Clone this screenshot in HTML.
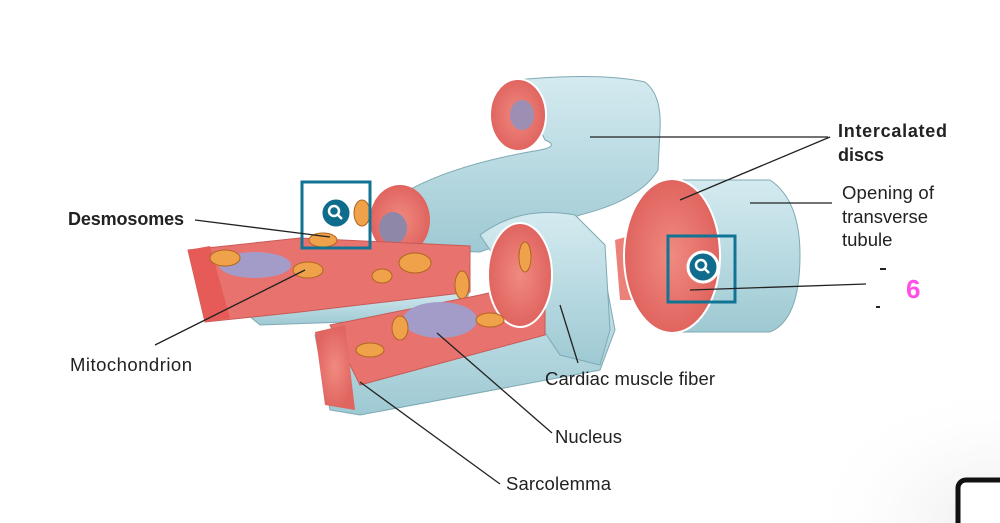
<!DOCTYPE html>
<html><head><style>
body{margin:0;width:1000px;height:523px;background:#fff;overflow:hidden;font-family:"Liberation Sans",sans-serif}
svg{position:absolute;left:0;top:0}
.t{font-family:"Liberation Sans",sans-serif;font-size:18.5px;fill:#222}
.b{font-weight:bold;font-size:18px}
</style></head><body>
<svg width="1000" height="523" viewBox="0 0 1000 523">
<defs>
<linearGradient id="bl" x1="0" y1="0" x2="0" y2="1"><stop offset="0" stop-color="#d4ebf0"/><stop offset="1" stop-color="#9ec9d3"/></linearGradient>
<radialGradient id="pk"><stop offset="0" stop-color="#f08a80"/><stop offset="1" stop-color="#e0645f"/></radialGradient>
<radialGradient id="sh" cx="1" cy="1" r="1"><stop offset="0" stop-color="#ececec"/><stop offset="1" stop-color="#fff" stop-opacity="0"/></radialGradient>
</defs>
<rect x="800" y="380" width="200" height="143" fill="url(#sh)"/>
<path d="M515,80 Q600,72 645,82 Q662,95 660,130 L658,170 Q640,200 580,215 L480,252 L410,250 Q385,220 400,195 Q450,165 540,150 Q560,146 545,140 Z" fill="url(#bl)" stroke="#7fa9b4"/>
<ellipse cx="518" cy="115" rx="28" ry="36" fill="url(#pk)" stroke="#fff" stroke-width="2"/>
<ellipse cx="522" cy="115" rx="12" ry="15" fill="#9d8fb4"/>
<ellipse cx="400" cy="220" rx="30" ry="35" fill="url(#pk)"/>
<ellipse cx="393" cy="228" rx="14" ry="16" fill="#8f87a8"/>
<path d="M230,300 L470,290 L460,318 L260,325 Z" fill="url(#bl)" stroke="#7fa9b4"/>
<path d="M188,250 L300,238 L470,246 L470,292 L300,312 L205,322 Z" fill="#e8736e" stroke="#c85a57"/>
<path d="M188,250 L210,246 L230,318 L205,322 Z" fill="#e65b57"/>
<ellipse cx="255" cy="265" rx="36" ry="13" fill="#a49cc8"/>
<g fill="#f0a24a" stroke="#b0651e">
<ellipse cx="225" cy="258" rx="15" ry="8"/><ellipse cx="308" cy="270" rx="15" ry="8"/><ellipse cx="323" cy="240" rx="14" ry="7"/>
<ellipse cx="415" cy="263" rx="16" ry="10"/><ellipse cx="382" cy="276" rx="10" ry="7"/><ellipse cx="462" cy="285" rx="7" ry="14"/><ellipse cx="362" cy="213" rx="8" ry="13"/>
</g>
<path d="M315,335 L560,280 L600,250 L615,330 L600,370 L360,415 L330,410 Z" fill="url(#bl)" stroke="#7fa9b4"/>
<path d="M480,235 Q520,205 575,215 L605,245 L610,330 L600,365 L560,355 Z" fill="url(#bl)" stroke="#7fa9b4"/>
<path d="M330,325 L480,295 L545,280 L545,335 L360,385 Z" fill="#e8736e" stroke="#c85a57"/>
<ellipse cx="520" cy="275" rx="32" ry="52" fill="url(#pk)" stroke="#fff" stroke-width="2"/>
<path d="M315,332 L345,325 L355,410 L325,405 Z" fill="url(#pk)"/>
<ellipse cx="440" cy="320" rx="37" ry="18" fill="#a49cc8"/>
<g fill="#f0a24a" stroke="#b0651e">
<ellipse cx="490" cy="320" rx="14" ry="7"/><ellipse cx="400" cy="328" rx="8" ry="12"/><ellipse cx="370" cy="350" rx="14" ry="7"/><ellipse cx="525" cy="257" rx="6" ry="15"/>
</g>
<path d="M615,240 L650,230 L660,300 L620,300 Z" fill="#ec8179"/>
<path d="M670,180 L770,180 Q800,200 800,255 Q800,320 770,332 L670,332 Z" fill="url(#bl)" stroke="#7fa9b4"/>
<ellipse cx="672" cy="256" rx="48" ry="77" fill="url(#pk)" stroke="#fff" stroke-width="2"/>
<g fill="none" stroke="#117495" stroke-width="3">
<rect x="302" y="182" width="68" height="66"/><rect x="668" y="236" width="67" height="66"/>
</g>
<g><circle cx="336" cy="213" r="15" fill="#0f6c8c" stroke="#fff" stroke-width="3"/><circle cx="334" cy="211" r="5" fill="none" stroke="#fff" stroke-width="2.5"/><line x1="338" y1="215" x2="342" y2="219" stroke="#fff" stroke-width="2.5"/></g>
<g><circle cx="703" cy="267" r="15" fill="#0f6c8c" stroke="#fff" stroke-width="3"/><circle cx="701" cy="265" r="5" fill="none" stroke="#fff" stroke-width="2.5"/><line x1="705" y1="269" x2="709" y2="273" stroke="#fff" stroke-width="2.5"/></g>
<g stroke="#222" stroke-width="1.3" fill="none">
<line x1="590" y1="137" x2="828" y2="137"/><line x1="830" y1="137" x2="680" y2="200"/>
<line x1="195" y1="220" x2="330" y2="237"/>
<line x1="750" y1="203" x2="832" y2="203"/>
<line x1="690" y1="290" x2="866" y2="284"/>
<line x1="155" y1="345" x2="305" y2="270"/>
<line x1="578" y1="363" x2="560" y2="305"/>
<line x1="552" y1="433" x2="437" y2="333"/>
<line x1="500" y1="484" x2="360" y2="382"/>
</g>
<text class="t b" x="838" y="137" textLength="109">Intercalated</text>
<text class="t b" x="838" y="161">discs</text>
<text class="t" x="842" y="199" textLength="92">Opening of</text>
<text class="t" x="842" y="223" textLength="86">transverse</text>
<text class="t" x="842" y="246">tubule</text>
<text class="t b" x="68" y="225" textLength="116">Desmosomes</text>
<text class="t" x="70" y="371" textLength="122">Mitochondrion</text>
<text class="t" x="545" y="385" textLength="170">Cardiac muscle fiber</text>
<text class="t" x="555" y="443" textLength="67">Nucleus</text>
<text class="t" x="506" y="490" textLength="105">Sarcolemma</text>
<text x="906" y="298" font-family="Liberation Sans Narrow, Liberation Sans" font-weight="bold" font-size="26" fill="#ff4de8">6</text>
<rect x="880" y="268" width="6" height="2" fill="#222"/><rect x="876" y="306" width="4" height="2" fill="#222"/>
<rect x="958" y="480" width="50" height="50" rx="8" fill="#fff" stroke="#111" stroke-width="5"/>
</svg>
</body></html>
